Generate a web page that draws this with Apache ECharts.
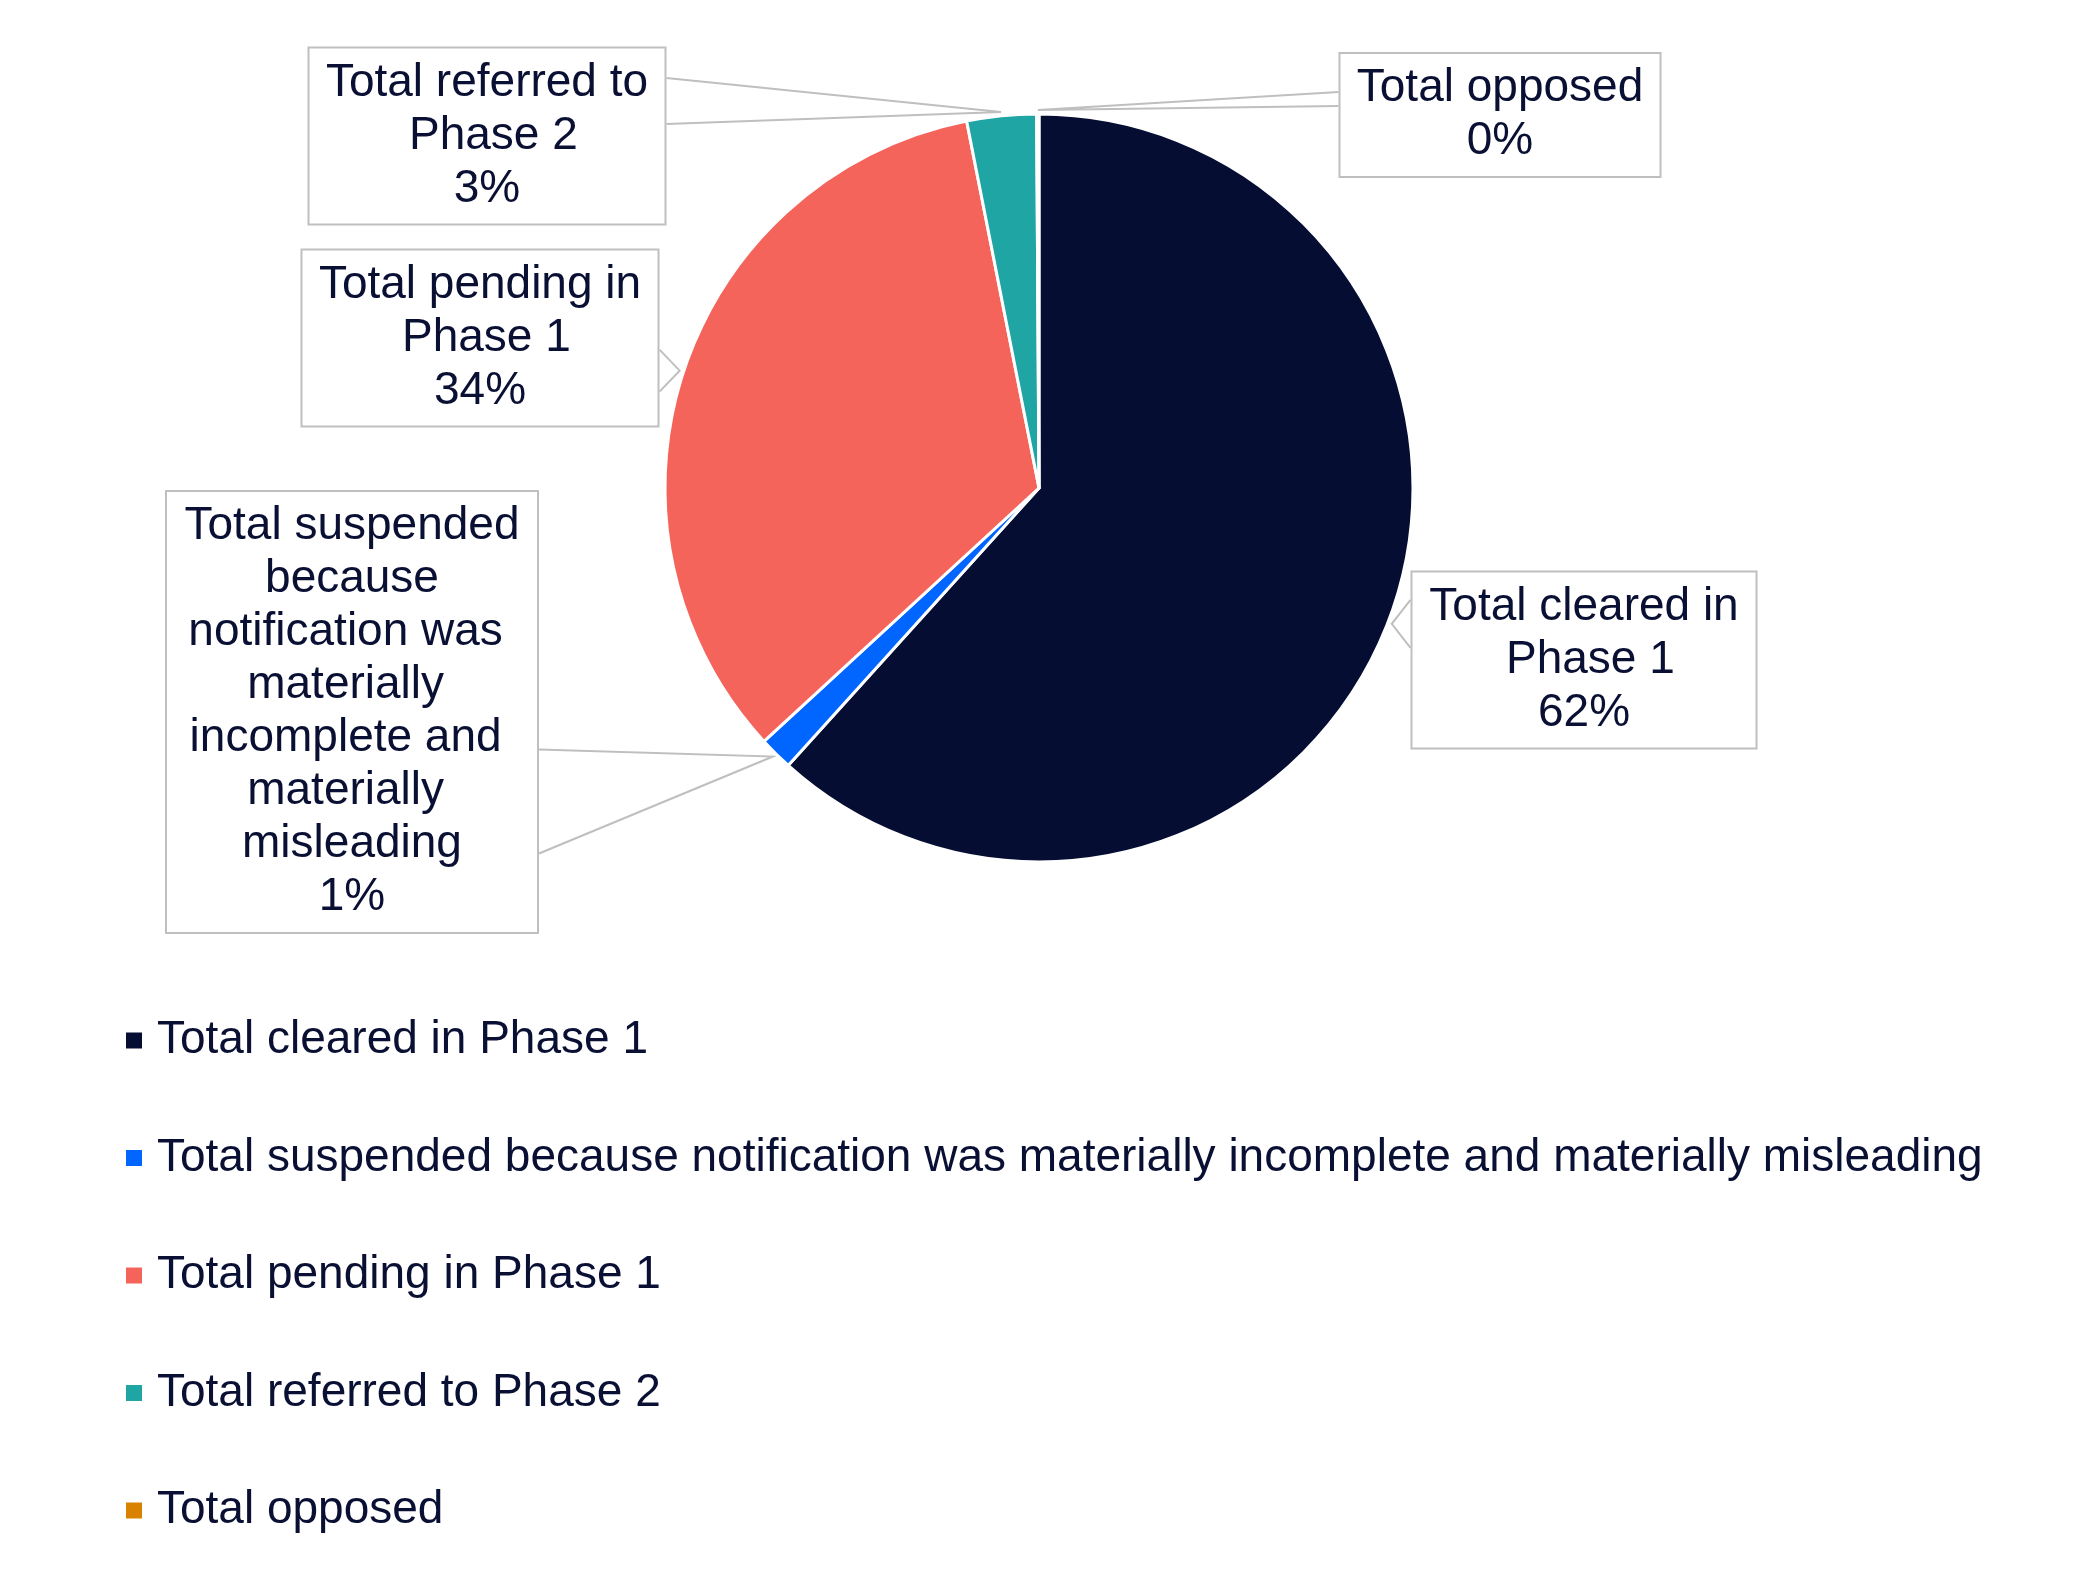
<!DOCTYPE html>
<html>
<head>
<meta charset="utf-8">
<script src="https://cdn.jsdelivr.net/npm/echarts@6/dist/echarts.min.js"></script>
<style>
html,body{margin:0;padding:0;background:#fff;}
#chart{width:2078px;height:1592px;}
</style>
</head>
<body>
<div id="chart"></div>
<script>
// Data
var categories = [
  'Total cleared in Phase 1',
  'Total suspended because notification was materially incomplete and materially misleading',
  'Total pending in Phase 1',
  'Total referred to Phase 2',
  'Total opposed'
];
var shares = [61.7, 1.45, 33.75, 3.0, 0.1];

// Styling / layout (not data)
var colors = ['#060d33', '#0066ff', '#f4645a', '#1fa5a3', '#d98200'];
var calloutCenters = [[1584, 660], [352, 712], [480, 338], [487, 136], [1500, 115]];
var calloutWidths = [323, 350, 335, 335, 299];
var calloutBaseHalf = [24, 52, 21, 23, 7];
var calloutBaseShift = [0, 45, 0, -11, -11];

var textColor = '#0a1033';
var fontFamily = '"Liberation Sans", Arial, sans-serif';
var pieCenter = [1039, 488];
var pieRadius = 374;

var chart = echarts.init(document.getElementById('chart'), null, {renderer: 'canvas'});

var total = shares.reduce(function (a, b) { return a + b; }, 0);
var cum = 0;
var midAngles = shares.map(function (v) {
  var m = (cum + v / 2) / total * 2 * Math.PI;
  cum += v;
  return m; // clockwise from 12 o'clock
});

var seriesData = categories.map(function (name, i) {
  return {
    name: name,
    value: shares[i],
    itemStyle: {color: colors[i]},
    label: {width: calloutWidths[i]}
  };
});

chart.setOption({
  animation: false,
  color: colors,
  legend: {
    orient: 'vertical',
    left: 121,
    top: 1009,
    itemWidth: 16,
    itemHeight: 16,
    itemGap: 64.5,
    icon: 'rect',
    selectedMode: false,
    itemStyle: {borderWidth: 0, borderColor: 'rgba(0,0,0,0)'},
    data: categories,
    textStyle: {
      fontFamily: fontFamily,
      fontSize: 46,
      lineHeight: 53,
      color: textColor,
      padding: [0, 0, 0, 10]
    }
  },
  series: [{
    type: 'pie',
    center: pieCenter,
    radius: [0, pieRadius],
    startAngle: 90,
    clockwise: true,
    avoidLabelOverlap: false,
    silent: true,
    itemStyle: {borderColor: '#ffffff', borderWidth: 3},
    label: {
      show: true,
      position: 'outside',
      formatter: function (p) { return p.name + '\n' + Math.round(p.percent) + '%'; },
      fontFamily: fontFamily,
      fontSize: 46,
      lineHeight: 53,
      color: textColor,
      align: 'center',
      overflow: 'break',
      backgroundColor: '#ffffff',
      borderColor: '#bfbfbf',
      borderWidth: 2,
      padding: [8, 10, 8, 10]
    },
    labelLine: {
      show: true,
      lineStyle: {color: '#bfbfbf', width: 2}
    },
    labelLayout: function (params) {
      var i = params.dataIndex;
      var c = calloutCenters[i];
      var w = params.labelRect.width, h = params.labelRect.height;
      var a = midAngles[i];
      var tip = [pieCenter[0] + (pieRadius + 4) * Math.sin(a),
                 pieCenter[1] - (pieRadius + 4) * Math.cos(a)];
      var edgeX = tip[0] < c[0] ? c[0] - w / 2 : c[0] + w / 2;
      var top = c[1] - h / 2, bottom = c[1] + h / 2;
      var half = calloutBaseHalf[i];
      var by = Math.min(Math.max(tip[1] + calloutBaseShift[i], top + half + 4), bottom - half - 4);
      return {
        x: c[0], y: c[1], align: 'center', verticalAlign: 'middle',
        labelLinePoints: [[edgeX, by - half], tip, [edgeX, by + half]]
      };
    },
    data: seriesData
  }]
});
</script>
</body>
</html>
